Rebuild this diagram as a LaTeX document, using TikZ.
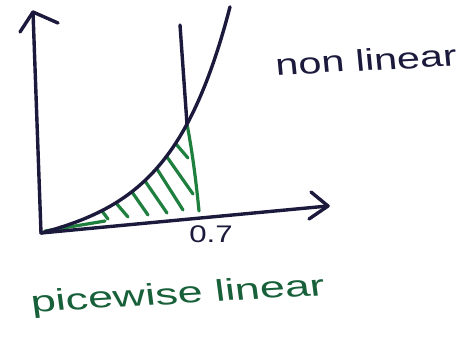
\documentclass[tikz,border=0pt]{standalone}
\usepackage{fontspec}
\setmainfont{Liberation Sans}
\begin{document}
\begin{tikzpicture}[x=1pt,y=-1pt,
  ink/.style={draw=navy,line width=3.4pt,line cap=round,line join=round},
  greenink/.style={draw=penGreen,line width=3.2pt,line cap=round,line join=round},
  hand/.style={inner sep=0pt,anchor=center}]
\definecolor{navy}{HTML}{1C1A3C}
\definecolor{penGreen}{HTML}{1F7F3E}
\definecolor{textGreen}{HTML}{17603A}
\useasboundingbox (0,0) rectangle (476,338);
\fill[white] (0,0) rectangle (476,338);
% named points
\coordinate (O) at (41,233);
\coordinate (ytop) at (33,12);
\coordinate (xtip) at (328,206);
\coordinate (cut) at (187,124);
\coordinate (cutbot) at (199,211);
\coordinate (vtop) at (180,25);
% green along x-axis near origin
\draw[greenink] (45,231) -- (105,221);
% hatch lines
\draw[greenink] (102,211) -- (108,219);
\draw[greenink] (116,203) -- (128,217);
\draw[greenink] (132,192) -- (148,215);
\draw[greenink] (145,181) -- (167,213);
\draw[greenink] (157,169) -- (183,210);
\draw[greenink] (167,157) -- (193,194);
\draw[greenink] (176,144) -- (188,158);
% green vertical part
\draw[greenink] (cut) .. controls (192,150) and (196,180) .. (cutbot);
% dark vertical line above
\draw[ink] (vtop) -- (cut);
% axes
\draw[ink] (O) -- (ytop);
\draw[ink] (20,32) -- (ytop) -- (58,23);
\draw[ink] (O) -- (xtip);
\draw[ink] (311,192) -- (xtip) -- (309,219);
% curve
\draw[ink] plot[domain=41:230,samples=80,smooth] (\x,{233-0.142*(\x-41)-6.86*(exp(0.018*(\x-41))-1)});
% labels
\node[hand,text=navy,font=\fontsize{24}{28}\selectfont,xscale=1.3] (l07) at (211,234) {0.7};
\node[hand,text=navy,font=\fontsize{30}{36}\selectfont,xscale=1.38,rotate=4] (lnl) at (366,60) {non linear};
\node[hand,text=textGreen,font=\fontsize{30}{36}\selectfont,xscale=1.5,rotate=5] (lpw) at (178,296) {picewise linear};
\end{tikzpicture}
\end{document}
